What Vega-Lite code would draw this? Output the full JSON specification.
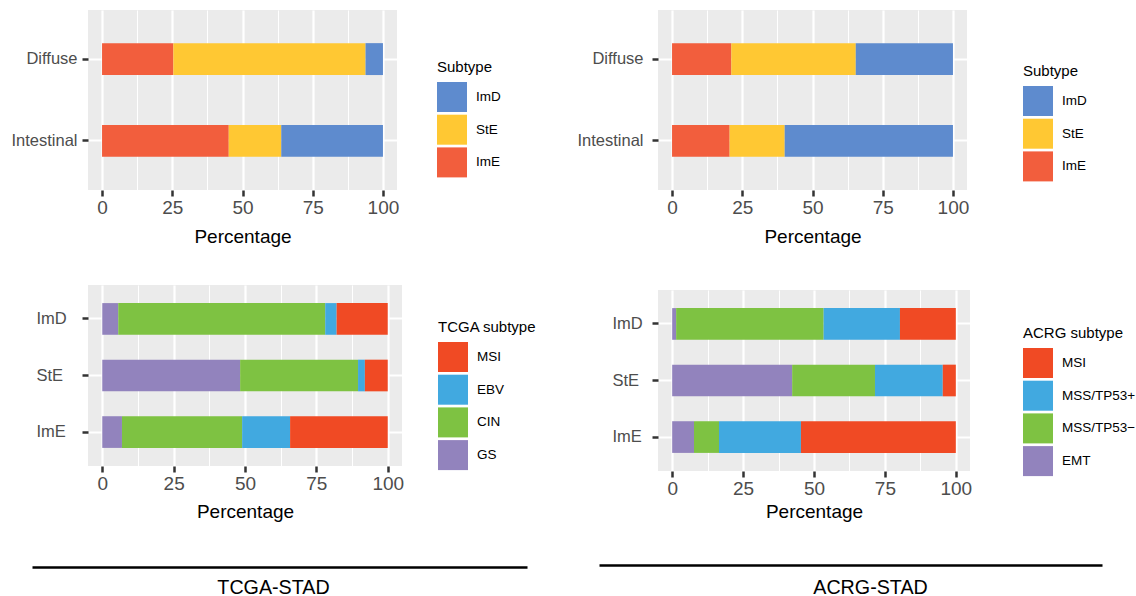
{
  "$schema": "https://vega.github.io/schema/vega-lite/v6.json",
  "autosize": {"type": "pad"},
  "padding": {"left": 10, "top": 10, "right": 0, "bottom": 0},
  "background": "#FFFFFF",
  "config": {
    "font": "Liberation Sans",
    "view": {"fill": "#EBEBEB", "stroke": null},
    "legend": {
      "symbolType": "square", "symbolSize": 900, "symbolStrokeWidth": 0, "symbolOpacity": 1,
      "labelFontSize": 13.5, "titleFontSize": 15, "titleFontWeight": "normal",
      "labelOffset": 9, "rowPadding": 2.7, "titlePadding": 7,
      "labelColor": "#000000", "titleColor": "#000000", "padding": 0
    }
  },
  "datasets": {
    "tcga_lauren": [
      {"Lauren": "Diffuse", "Subtype": "ImE", "Percentage": 25.4},
      {"Lauren": "Diffuse", "Subtype": "StE", "Percentage": 68.4},
      {"Lauren": "Diffuse", "Subtype": "ImD", "Percentage": 6.2},
      {"Lauren": "Intestinal", "Subtype": "ImE", "Percentage": 45.1},
      {"Lauren": "Intestinal", "Subtype": "StE", "Percentage": 18.7},
      {"Lauren": "Intestinal", "Subtype": "ImD", "Percentage": 36.2}
    ],
    "acrg_lauren": [
      {"Lauren": "Diffuse", "Subtype": "ImE", "Percentage": 21.1},
      {"Lauren": "Diffuse", "Subtype": "StE", "Percentage": 44.3},
      {"Lauren": "Diffuse", "Subtype": "ImD", "Percentage": 34.6},
      {"Lauren": "Intestinal", "Subtype": "ImE", "Percentage": 20.5},
      {"Lauren": "Intestinal", "Subtype": "StE", "Percentage": 19.6},
      {"Lauren": "Intestinal", "Subtype": "ImD", "Percentage": 59.9}
    ],
    "tcga_sub": [
      {"Subtype": "ImD", "TCGA": "GS", "Percentage": 5.6},
      {"Subtype": "ImD", "TCGA": "CIN", "Percentage": 72.5},
      {"Subtype": "ImD", "TCGA": "EBV", "Percentage": 4.0},
      {"Subtype": "ImD", "TCGA": "MSI", "Percentage": 17.9},
      {"Subtype": "StE", "TCGA": "GS", "Percentage": 48.3},
      {"Subtype": "StE", "TCGA": "CIN", "Percentage": 41.3},
      {"Subtype": "StE", "TCGA": "EBV", "Percentage": 2.4},
      {"Subtype": "StE", "TCGA": "MSI", "Percentage": 8.0},
      {"Subtype": "ImE", "TCGA": "GS", "Percentage": 6.9},
      {"Subtype": "ImE", "TCGA": "CIN", "Percentage": 42.1},
      {"Subtype": "ImE", "TCGA": "EBV", "Percentage": 16.8},
      {"Subtype": "ImE", "TCGA": "MSI", "Percentage": 34.2}
    ],
    "acrg_sub": [
      {"Subtype": "ImD", "ACRG": "EMT", "Percentage": 1.4},
      {"Subtype": "ImD", "ACRG": "MSS/TP53−", "Percentage": 52.0},
      {"Subtype": "ImD", "ACRG": "MSS/TP53+", "Percentage": 26.9},
      {"Subtype": "ImD", "ACRG": "MSI", "Percentage": 19.7},
      {"Subtype": "StE", "ACRG": "EMT", "Percentage": 42.3},
      {"Subtype": "StE", "ACRG": "MSS/TP53−", "Percentage": 29.2},
      {"Subtype": "StE", "ACRG": "MSS/TP53+", "Percentage": 23.9},
      {"Subtype": "StE", "ACRG": "MSI", "Percentage": 4.6},
      {"Subtype": "ImE", "ACRG": "EMT", "Percentage": 7.7},
      {"Subtype": "ImE", "ACRG": "MSS/TP53−", "Percentage": 8.8},
      {"Subtype": "ImE", "ACRG": "MSS/TP53+", "Percentage": 28.9},
      {"Subtype": "ImE", "ACRG": "MSI", "Percentage": 54.6}
    ]
  },
  "spacing": -7,
  "resolve": {"scale": {"color": "independent"}, "legend": {"color": "independent"}},
  "hconcat": [
    {
      "vconcat": [
        {
          "width": 309, "height": 180,
          "data": {"name": "tcga_lauren"},
          "transform": [{"calculate": "indexof(['ImE','StE','ImD'], datum.Subtype)", "as": "ord"}],
          "mark": {"type": "bar"},
          "encoding": {
            "y": {"field": "Lauren", "type": "nominal", "sort": ["Diffuse", "Intestinal"],
              "scale": {"paddingInner": 0.61, "paddingOuter": 0.405},
              "axis": {"title": null, "domain": false, "grid": true, "gridColor": "#FFFFFF", "gridWidth": 2.2, "bandPosition": 0.5,
                "tickSize": 6, "tickWidth": 2.5, "tickColor": "#333333", "labelFontSize": 16.5, "labelColor": "#4D4D4D", "labelPadding": 5, "labelAlign": "right"}},
            "x": {"field": "Percentage", "type": "quantitative", "stack": "zero",
              "scale": {"domain": [-5, 105], "nice": false, "zero": false},
              "axis": {"values": [0, 12.5, 25, 37.5, 50, 62.5, 75, 87.5, 100],
                "labelExpr": "datum.value % 25 === 0 ? datum.label : ''",
                "labelOverlap": false, "labelFlush": false, "labelFontSize": 19, "labelColor": "#4D4D4D", "labelPadding": 2,
                "tickSize": 6, "tickWidth": 2.5, "tickColor": "#333333",
                "tickOpacity": {"condition": {"test": "datum.value % 25 !== 0", "value": 0}, "value": 1},
                "grid": true, "gridColor": "#FFFFFF",
                "gridWidth": {"condition": {"test": "datum.value % 25 === 0", "value": 2.2}, "value": 1.1},
                "domain": false, "title": "Percentage", "titleFontSize": 19, "titleFontWeight": "normal", "titleColor": "#000000",
                "minExtent": 26, "maxExtent": 26, "titlePadding": 11}},
            "color": {"field": "Subtype", "type": "nominal",
              "scale": {"domain": ["ImD", "StE", "ImE"], "range": ["#5E8BCE", "#FFC833", "#F25E3D"]},
              "legend": {"title": "Subtype", "orient": "none", "legendX": 349, "legendY": 50}},
            "order": {"field": "ord", "type": "quantitative"}
          }
        },
        {
          "width": 314, "height": 181,
          "data": {"name": "tcga_sub"},
          "transform": [{"calculate": "indexof(['GS','CIN','EBV','MSI'], datum.TCGA)", "as": "ord"}],
          "mark": {"type": "bar"},
          "encoding": {
            "y": {"field": "Subtype", "type": "nominal", "sort": ["ImD", "StE", "ImE"],
              "scale": {"paddingInner": 0.44, "paddingOuter": 0.32},
              "axis": {"title": null, "domain": false, "grid": true, "gridColor": "#FFFFFF", "gridWidth": 2.2, "bandPosition": 0.5,
                "tickSize": 6, "tickWidth": 2.5, "tickColor": "#333333", "labelFontSize": 16.5, "labelColor": "#4D4D4D", "labelPadding": 46, "labelAlign": "left"}},
            "x": {"field": "Percentage", "type": "quantitative", "stack": "zero",
              "scale": {"domain": [-5, 105], "nice": false, "zero": false},
              "axis": {"values": [0, 12.5, 25, 37.5, 50, 62.5, 75, 87.5, 100],
                "labelExpr": "datum.value % 25 === 0 ? datum.label : ''",
                "labelOverlap": false, "labelFlush": false, "labelFontSize": 19, "labelColor": "#4D4D4D", "labelPadding": 2,
                "tickSize": 6, "tickWidth": 2.5, "tickColor": "#333333",
                "tickOpacity": {"condition": {"test": "datum.value % 25 !== 0", "value": 0}, "value": 1},
                "grid": true, "gridColor": "#FFFFFF",
                "gridWidth": {"condition": {"test": "datum.value % 25 === 0", "value": 2.2}, "value": 1.1},
                "domain": false, "title": "Percentage", "titleFontSize": 19, "titleFontWeight": "normal", "titleColor": "#000000",
                "minExtent": 26, "maxExtent": 26, "titlePadding": 10}},
            "color": {"field": "TCGA", "type": "nominal",
              "scale": {"domain": ["MSI", "EBV", "CIN", "GS"], "range": ["#F04A24", "#41A9E0", "#7EC242", "#9283BD"]},
              "legend": {"title": "TCGA subtype", "orient": "none", "legendX": 350, "legendY": 35}},
            "order": {"field": "ord", "type": "quantitative"}
          }
        },
        {
          "width": 439, "height": 6,
          "view": {"fill": null, "stroke": null},
          "data": {"values": [{"v": 0.5, "cohort": "TCGA-STAD"}]},
          "mark": {"type": "point", "opacity": 0},
          "encoding": {
            "x": {"field": "v", "type": "quantitative",
              "scale": {"domain": [0, 1], "range": [-56, 439]},
              "axis": {"orient": "bottom", "domain": true, "domainColor": "#000000", "domainWidth": 2.5,
                "ticks": false, "labels": false, "grid": false,
                "title": "TCGA-STAD", "titleFontSize": 19.7, "titleFontWeight": "normal", "titleColor": "#000000",
                "titlePadding": 10, "titleX": 185, "minExtent": 0, "maxExtent": 0}}
          }
        }
      ],
      "spacing": 95,
      "bounds": "flush",
      "resolve": {"scale": {"color": "independent", "x": "independent", "y": "independent"}, "legend": {"color": "independent"}}
    },
    {
      "vconcat": [
        {
          "width": 309, "height": 180,
          "data": {"name": "acrg_lauren"},
          "transform": [{"calculate": "indexof(['ImE','StE','ImD'], datum.Subtype)", "as": "ord"}],
          "mark": {"type": "bar"},
          "encoding": {
            "y": {"field": "Lauren", "type": "nominal", "sort": ["Diffuse", "Intestinal"],
              "scale": {"paddingInner": 0.61, "paddingOuter": 0.405},
              "axis": {"title": null, "domain": false, "grid": true, "gridColor": "#FFFFFF", "gridWidth": 2.2, "bandPosition": 0.5,
                "tickSize": 6, "tickWidth": 2.5, "tickColor": "#333333", "labelFontSize": 16.5, "labelColor": "#4D4D4D", "labelPadding": 9, "labelAlign": "right"}},
            "x": {"field": "Percentage", "type": "quantitative", "stack": "zero",
              "scale": {"domain": [-5, 105], "nice": false, "zero": false},
              "axis": {"values": [0, 12.5, 25, 37.5, 50, 62.5, 75, 87.5, 100],
                "labelExpr": "datum.value % 25 === 0 ? datum.label : ''",
                "labelOverlap": false, "labelFlush": false, "labelFontSize": 19, "labelColor": "#4D4D4D", "labelPadding": 2,
                "tickSize": 6, "tickWidth": 2.5, "tickColor": "#333333",
                "tickOpacity": {"condition": {"test": "datum.value % 25 !== 0", "value": 0}, "value": 1},
                "grid": true, "gridColor": "#FFFFFF",
                "gridWidth": {"condition": {"test": "datum.value % 25 === 0", "value": 2.2}, "value": 1.1},
                "domain": false, "title": "Percentage", "titleFontSize": 19, "titleFontWeight": "normal", "titleColor": "#000000",
                "minExtent": 26, "maxExtent": 26, "titlePadding": 11}},
            "color": {"field": "Subtype", "type": "nominal",
              "scale": {"domain": ["ImD", "StE", "ImE"], "range": ["#5E8BCE", "#FFC833", "#F25E3D"]},
              "legend": {"title": "Subtype", "orient": "none", "legendX": 365, "legendY": 54}},
            "order": {"field": "ord", "type": "quantitative"}
          }
        },
        {
          "width": 312, "height": 181,
          "data": {"name": "acrg_sub"},
          "transform": [{"calculate": "indexof(['EMT','MSS/TP53−','MSS/TP53+','MSI'], datum.ACRG)", "as": "ord"}],
          "mark": {"type": "bar"},
          "encoding": {
            "y": {"field": "Subtype", "type": "nominal", "sort": ["ImD", "StE", "ImE"],
              "scale": {"paddingInner": 0.44, "paddingOuter": 0.32},
              "axis": {"title": null, "domain": false, "grid": true, "gridColor": "#FFFFFF", "gridWidth": 2.2, "bandPosition": 0.5,
                "tickSize": 6, "tickWidth": 2.5, "tickColor": "#333333", "labelFontSize": 16.5, "labelColor": "#4D4D4D", "labelPadding": 40, "labelAlign": "left"}},
            "x": {"field": "Percentage", "type": "quantitative", "stack": "zero",
              "scale": {"domain": [-5, 105], "nice": false, "zero": false},
              "axis": {"values": [0, 12.5, 25, 37.5, 50, 62.5, 75, 87.5, 100],
                "labelExpr": "datum.value % 25 === 0 ? datum.label : ''",
                "labelOverlap": false, "labelFlush": false, "labelFontSize": 19, "labelColor": "#4D4D4D", "labelPadding": 2,
                "tickSize": 6, "tickWidth": 2.5, "tickColor": "#333333",
                "tickOpacity": {"condition": {"test": "datum.value % 25 !== 0", "value": 0}, "value": 1},
                "grid": true, "gridColor": "#FFFFFF",
                "gridWidth": {"condition": {"test": "datum.value % 25 === 0", "value": 2.2}, "value": 1.1},
                "domain": false, "title": "Percentage", "titleFontSize": 19, "titleFontWeight": "normal", "titleColor": "#000000",
                "minExtent": 26, "maxExtent": 26, "titlePadding": 5}},
            "color": {"field": "ACRG", "type": "nominal",
              "scale": {"domain": ["MSI", "MSS/TP53+", "MSS/TP53−", "EMT"], "range": ["#F04A24", "#41A9E0", "#7EC242", "#9283BD"]},
              "legend": {"title": "ACRG subtype", "orient": "none", "legendX": 365, "legendY": 36}},
            "order": {"field": "ord", "type": "quantitative"}
          }
        },
        {
          "width": 444, "height": 1,
          "view": {"fill": null, "stroke": null},
          "data": {"values": [{"v": 0.5, "cohort": "ACRG-STAD"}]},
          "mark": {"type": "point", "opacity": 0},
          "encoding": {
            "x": {"field": "v", "type": "quantitative",
              "scale": {"domain": [0, 1], "range": [-59, 444]},
              "axis": {"orient": "bottom", "offset": -7, "domain": true, "domainColor": "#000000", "domainWidth": 2.5,
                "ticks": false, "labels": false, "grid": false,
                "title": "ACRG-STAD", "titleFontSize": 19.7, "titleFontWeight": "normal", "titleColor": "#000000",
                "titlePadding": 12, "titleX": 212, "minExtent": 0, "maxExtent": 0}}
          }
        }
      ],
      "spacing": 100,
      "bounds": "flush",
      "resolve": {"scale": {"color": "independent", "x": "independent", "y": "independent"}, "legend": {"color": "independent"}}
    }
  ]
}
